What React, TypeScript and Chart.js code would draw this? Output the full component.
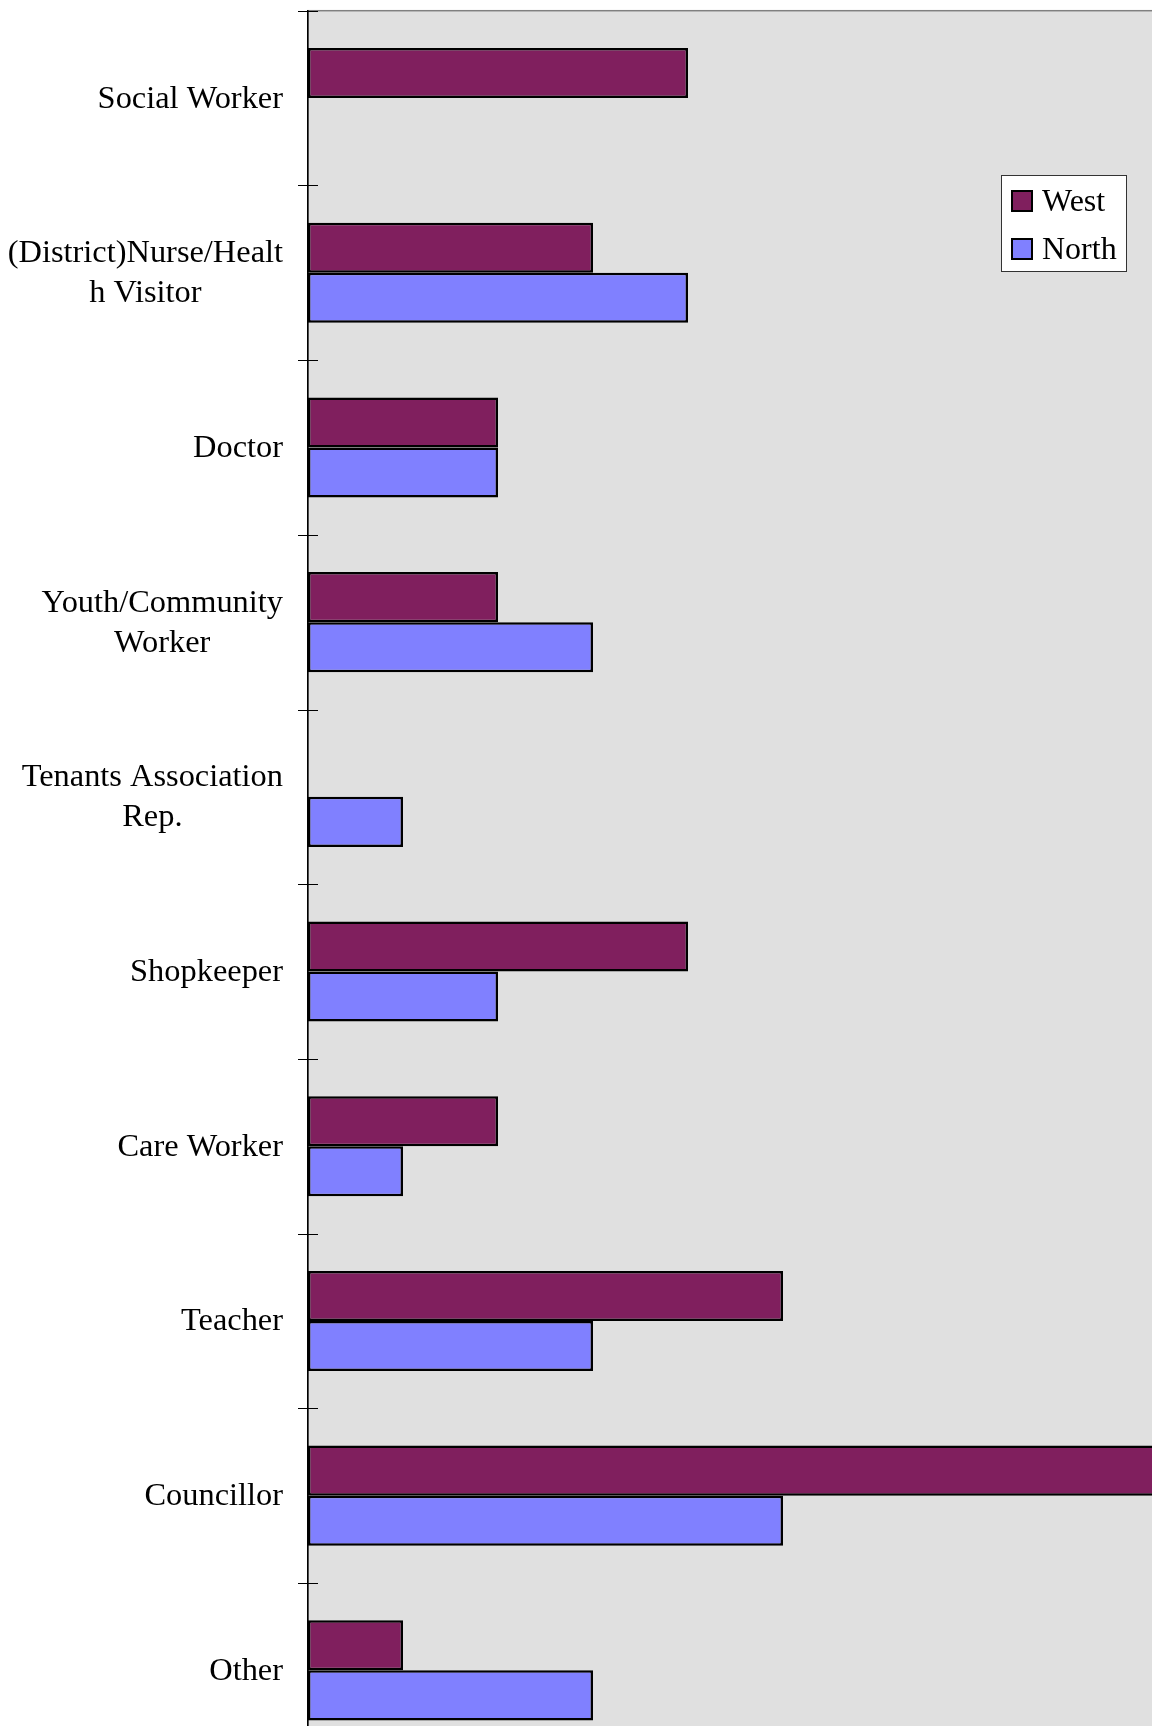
import { useEffect, useRef } from "react";
import { Chart, registerables } from "chart.js";

Chart.register(...registerables);

const categories: string[][] = [
  ["Social Worker"],
  ["(District)Nurse/Healt", "h Visitor"],
  ["Doctor"],
  ["Youth/Community", "Worker"],
  ["Tenants Association", "Rep."],
  ["Shopkeeper"],
  ["Care Worker"],
  ["Teacher"],
  ["Councillor"],
  ["Other"],
];
const westValues = [4, 3, 2, 2, 0, 4, 2, 5, 9, 1];
const northValues = [0, 4, 2, 3, 1, 2, 1, 3, 5, 3];
const seriesNames = ["West", "North"];
const seriesColors = ["#801F5E", "#8080FF"];

const FONT = "'Liberation Serif', 'Times New Roman', serif";

export default function App() {
  const ref = useRef<HTMLCanvasElement>(null);

  useEffect(() => {
    const canvas = ref.current;
    if (!canvas) return;

    const bgPlugin = {
      id: "plotBg",
      beforeDraw(chart: any) {
        const { ctx, chartArea: a } = chart;
        ctx.save();
        ctx.fillStyle = "#E0E0E0";
        ctx.fillRect(a.left, a.top, a.right - a.left, a.bottom - a.top);
        ctx.strokeStyle = "#808080";
        ctx.lineWidth = 1.5;
        ctx.strokeRect(a.left, a.top, a.right - a.left, a.bottom - a.top);
        ctx.restore();
      },
    };

    const tickPlugin = {
      id: "catTicks",
      afterDatasetsDraw(chart: any) {
        const { ctx, chartArea: a } = chart;
        const y = chart.scales.y;
        const n = categories.length;
        const band = y.getPixelForTick(1) - y.getPixelForTick(0);
        ctx.save();
        ctx.strokeStyle = "#000";
        ctx.lineWidth = 1;
        for (let i = 0; i <= n; i++) {
          const yy = Math.round(y.getPixelForTick(0) - band / 2 + i * band) + 0.5;
          ctx.beginPath();
          ctx.moveTo(a.left - 10, yy);
          ctx.lineTo(a.left + 10, yy);
          ctx.stroke();
        }
        ctx.restore();
      },
    };

    const labelPlugin = {
      id: "catLabels",
      afterDraw(chart: any) {
        const { ctx, chartArea: a } = chart;
        const y = chart.scales.y;
        ctx.save();
        ctx.font = `32.4px ${FONT}`;
        ctx.fillStyle = "#000";
        ctx.textAlign = "center";
        ctx.textBaseline = "alphabetic";
        categories.forEach((lines, i) => {
          const cy = y.getPixelForTick(i);
          const w = Math.max(...lines.map((l) => ctx.measureText(l).width));
          const cx = a.left - 25 - w / 2;
          lines.forEach((l, j) => {
            ctx.fillText(l, cx, cy + (j - (lines.length - 1) / 2) * 40 + 9.5);
          });
        });
        ctx.restore();
      },
    };

    const legendPlugin = {
      id: "boxLegend",
      afterDraw(chart: any) {
        const { ctx } = chart;
        ctx.save();
        ctx.fillStyle = "#FFFFFF";
        ctx.fillRect(1001, 175, 125, 96);
        ctx.strokeStyle = "#333333";
        ctx.lineWidth = 1;
        ctx.strokeRect(1001.5, 175.5, 125, 96);
        ctx.font = `32px ${FONT}`;
        ctx.textAlign = "left";
        ctx.textBaseline = "alphabetic";
        seriesNames.forEach((name, i) => {
          const sy = 190 + i * 48;
          ctx.fillStyle = seriesColors[i];
          ctx.fillRect(1011, sy, 22, 22);
          ctx.strokeStyle = "#000";
          ctx.lineWidth = 2;
          ctx.strokeRect(1012, sy + 1, 20, 20);
          ctx.fillStyle = "#000";
          ctx.fillText(name, 1042, sy + 21);
        });
        ctx.restore();
      },
    };

    const chart = new Chart(canvas, {
      type: "bar",
      data: {
        labels: categories,
        datasets: [
          {
            label: seriesNames[0],
            data: westValues,
            backgroundColor: seriesColors[0],
            borderColor: "#000",
            borderWidth: 2.5,
            borderSkipped: false,
            categoryPercentage: 0.573,
            barPercentage: 1,
          },
          {
            label: seriesNames[1],
            data: northValues,
            backgroundColor: seriesColors[1],
            borderColor: "#000",
            borderWidth: 2.5,
            borderSkipped: false,
            categoryPercentage: 0.573,
            barPercentage: 1,
          },
        ],
      },
      options: {
        indexAxis: "y",
        responsive: false,
        animation: false,
        layout: { padding: { top: 10.7, left: 0, right: 2, bottom: 2.3 } },
        plugins: {
          legend: { display: false },
          tooltip: { enabled: false },
        },
        scales: {
          x: { display: false, min: 0, max: 10 },
          y: {
            type: "category",
            ticks: { display: false },
            grid: { display: false },
            border: { display: true, color: "#000", width: 1.5 },
            afterFit(s: any) {
              s.width = 308;
            },
          },
        },
      },
      plugins: [bgPlugin, tickPlugin, labelPlugin, legendPlugin],
    } as any);

    return () => chart.destroy();
  }, []);

  return (
    <div
      style={{
        position: "absolute",
        left: 0,
        top: 0,
        width: 1152,
        height: 1726,
        overflow: "hidden",
        background: "#fff",
      }}
    >
      <canvas ref={ref} width={1260} height={1760} style={{ display: "block" }} />
    </div>
  );
}
